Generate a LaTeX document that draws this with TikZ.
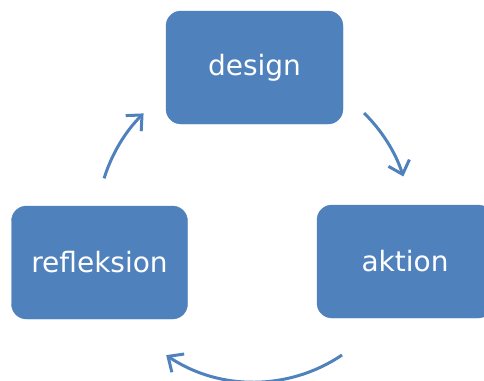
\documentclass[tikz,border=0pt]{standalone}
\usepackage{fontspec}
\setmainfont{DejaVu Sans}
\usetikzlibrary{arrows.meta}
\definecolor{cycleblue}{HTML}{4F81BD}
\tikzset{
  stage/.style={fill=cycleblue, draw=cycleblue, rounded corners=15pt,
    minimum width=176pt, minimum height=113pt, inner sep=0pt,
    text=white, font=\fontsize{28pt}{32pt}\selectfont},
  flow/.style={draw=cycleblue, line width=3pt,
    -{Straight Barb[length=12pt, width=22pt, line width=3pt]}}
}
\begin{document}
\begin{tikzpicture}[x=1pt, y=-1pt]
  \useasboundingbox (0,0) rectangle (484,380);
  \clip (0,0) rectangle (484,380);
  % the three stages of the cycle
  \node[stage, minimum width=177pt] (design) at (254.5,67.5) {design};
  \node[stage] (aktion) at (405,261.5) {aktion};
  \node[stage] (refleksion) at (99.5,262.5) {refleksion};
  % circular arrows around the common centre
  \coordinate (hub) at (254,225);
  \draw[flow] ([shift={(-162.7:157)}]hub) arc[start angle=-162.7, end angle=-134.7, radius=157];
  \draw[flow] ([shift={(-45.5:157)}]hub) arc[start angle=-45.5, end angle=-18, radius=157];
  \draw[flow] ([shift={(55.9:157)}]hub) arc[start angle=55.9, end angle=124, radius=157];
\end{tikzpicture}
\end{document}
